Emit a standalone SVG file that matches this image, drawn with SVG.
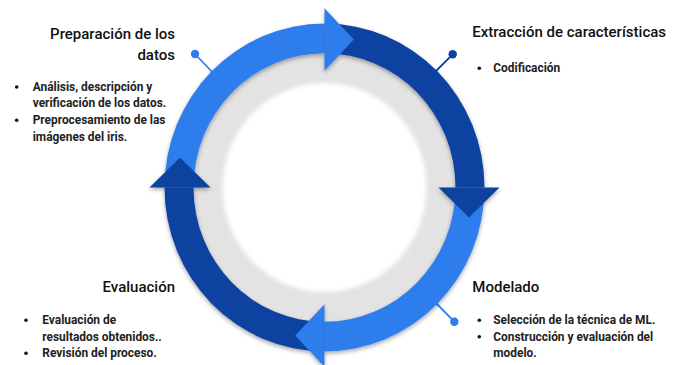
<svg xmlns="http://www.w3.org/2000/svg" width="679" height="365" viewBox="0 0 679 365">
  <style>
    .title { font-family: Roboto, "Liberation Sans", sans-serif; font-weight: 500; font-size: 15px; fill: #111; }
    .item { font-family: Roboto, "Liberation Sans", sans-serif; font-weight: 700; font-size: 11.9px; fill: #222; }
    .end { text-anchor: end; }
    .bullet { fill: #111; }
    .light { fill: #2f7ded; }
    .dark { fill: #0b43a0; }
    .conn-l { stroke: #2f7ded; stroke-width: 1.8; fill: none; }
    .conn-d { stroke: #0b43a0; stroke-width: 1.8; fill: none; }
  </style>
  <defs>
    <filter id="shadow" x="-20%" y="-20%" width="140%" height="140%">
      <feDropShadow dx="0" dy="2" stdDeviation="2.2" flood-color="#000" flood-opacity="0.35"/>
    </filter>
    <filter id="soft" x="-10%" y="-10%" width="120%" height="120%">
      <feGaussianBlur stdDeviation="2"/>
    </filter>
  </defs>
  <rect width="679" height="365" fill="#fff"/>

  <g id="connectors">
    <line class="conn-l" x1="195" y1="54" x2="216" y2="76"/>
    <circle class="light" cx="195" cy="54" r="4.2"/>
    <line class="conn-d" x1="452.7" y1="54.3" x2="433" y2="74"/>
    <circle class="dark" cx="452.7" cy="54.3" r="4.2"/>
    <line class="conn-l" x1="454.3" y1="321.7" x2="433" y2="300"/>
    <circle class="light" cx="454.3" cy="321.7" r="4.2"/>
  </g>

  <g id="cycle" transform="translate(324.5 187.5) scale(1 1.025)">
    <circle r="132" fill="#e3e3e3"/>
    <circle r="102" fill="#fff" filter="url(#soft)"/>
    <g filter="url(#shadow)">
      <path class="light" d="M -160 0 A 160 160 0 0 1 0 -160 L 0 -131 A 131 131 0 0 0 -131 0 Z"/>
      <path class="dark" d="M 0 -160 A 160 160 0 0 1 160 0 L 131 0 A 131 131 0 0 0 0 -131 Z"/>
      <path class="light" d="M 160 0 A 160 160 0 0 1 0 160 L 0 131 A 131 131 0 0 0 131 0 Z"/>
      <path class="dark" d="M 0 160 A 160 160 0 0 1 -160 0 L -131 0 A 131 131 0 0 0 0 131 Z"/>
      <polygon class="light" points="0,-175 29.3,-144.5 0,-114"/>
      <polygon class="dark" points="175,0 144.5,29.3 114,0"/>
      <polygon class="light" points="0,175 -29.3,144.5 0,114"/>
      <polygon class="dark" points="-175,0 -144.5,-29.3 -114,0"/>
    </g>
  </g>

  <g id="preparacion">
    <text class="title end" x="175" y="39">Preparación de los</text>
    <text class="title end" x="175" y="59.5">datos</text>
    <circle class="bullet" cx="16.7" cy="87" r="1.8"/>
    <text class="item" x="32.7" y="90.7">Análisis, descripción y</text>
    <text class="item" x="32.7" y="107.3">verificación de los datos.</text>
    <circle class="bullet" cx="16.7" cy="120.3" r="1.8"/>
    <text class="item" x="32.7" y="124">Preprocesamiento de las</text>
    <text class="item" x="32.7" y="140.7">imágenes del iris.</text>
  </g>

  <g id="extraccion">
    <text class="title" x="472.3" y="37.3">Extracción de características</text>
    <circle class="bullet" cx="479.3" cy="68.3" r="1.8"/>
    <text class="item" x="493.3" y="72">Codificación</text>
  </g>

  <g id="modelado">
    <text class="title" x="472.3" y="291.7">Modelado</text>
    <circle class="bullet" cx="479.3" cy="320.3" r="1.8"/>
    <text class="item" x="493.3" y="324">Selección de la técnica de ML.</text>
    <circle class="bullet" cx="479.3" cy="336.7" r="1.8"/>
    <text class="item" x="493.3" y="340.5">Construcción y evaluación del</text>
    <text class="item" x="493.3" y="357">modelo.</text>
  </g>

  <g id="evaluacion">
    <text class="title end" x="175" y="291.7">Evaluación</text>
    <circle class="bullet" cx="26" cy="320.3" r="1.8"/>
    <text class="item" x="42.3" y="324">Evaluación de</text>
    <text class="item" x="42.3" y="340.5">resultados obtenidos..</text>
    <circle class="bullet" cx="26" cy="353.3" r="1.8"/>
    <text class="item" x="42.3" y="357">Revisión del proceso.</text>
  </g>
</svg>
